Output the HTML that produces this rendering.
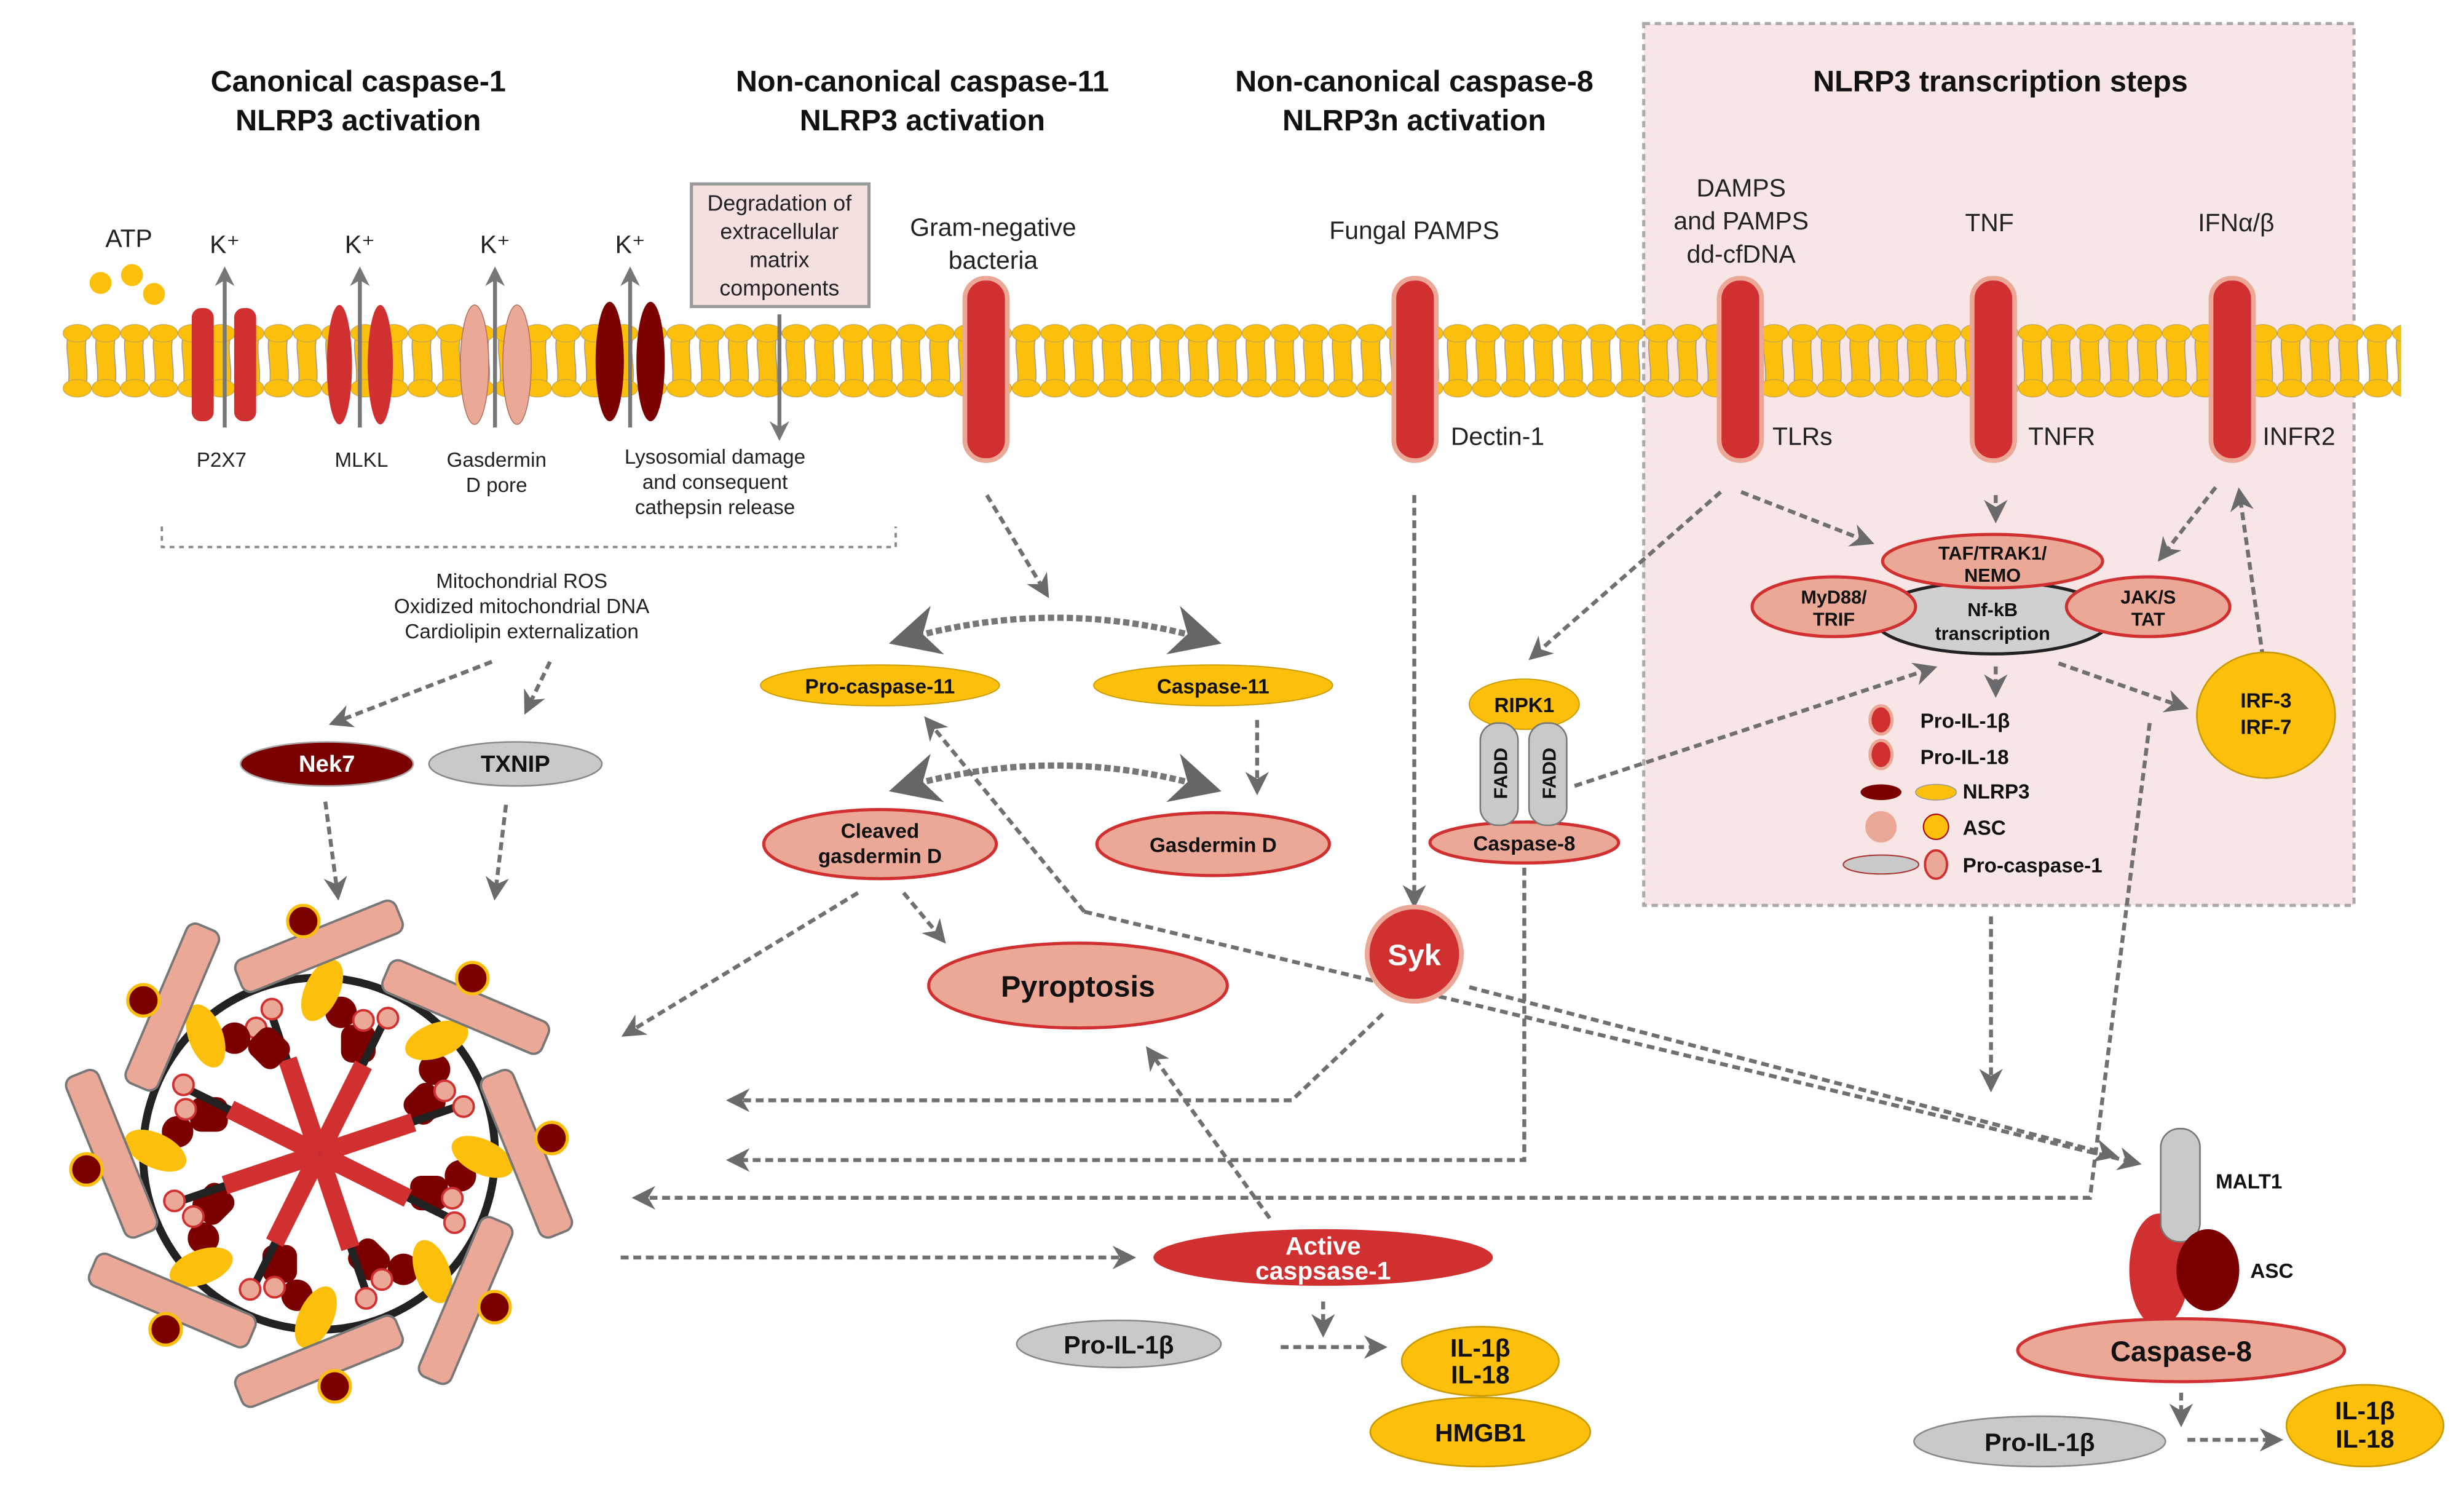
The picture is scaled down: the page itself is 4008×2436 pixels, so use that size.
<!DOCTYPE html>
<html><head><meta charset="utf-8"><style>
html,body{margin:0;padding:0;background:#fff}
svg{display:block}
text{font-family:"Liberation Sans",sans-serif}
.t{font-size:19px;font-weight:bold;text-anchor:middle;fill:#111}
.n{font-size:16px;text-anchor:middle;fill:#222}
.s{font-size:13px;text-anchor:middle;fill:#222}
.b{font-weight:bold;text-anchor:middle;fill:#111}
.d{fill:none;stroke:#707070;stroke-width:2.5;stroke-dasharray:5 3}
</style></head><body>
<svg width="4008" height="2436" viewBox="0 0 1568 953" xmlns="http://www.w3.org/2000/svg">
<defs>
<marker id="a" viewBox="0 0 10 10" refX="8" refY="5" markerWidth="6" markerHeight="6" orient="auto-start-reverse"><path d="M0,0 L10,5 L0,10 L3,5z" fill="#6a6a6a"/></marker>
<marker id="B" viewBox="0 0 10 10" refX="6" refY="5" markerWidth="8" markerHeight="8" orient="auto-start-reverse"><path d="M0,0 L10,5 L0,10 L3,5z" fill="#666"/></marker>
<marker id="g" viewBox="0 0 10 10" refX="8" refY="5" markerWidth="5" markerHeight="5" orient="auto"><path d="M0,0 L10,5 L0,10 L3,5z" fill="#777"/></marker>
<pattern id="mem" x="40" y="0" width="18.3" height="953" patternUnits="userSpaceOnUse">
<path d="M3,215 C1.5,224 5,234 3.5,244 L15,244 C16.5,234 13,224 15,215 Z" fill="#fbbf0c" stroke="#999" stroke-width="0.6"/>
<ellipse cx="9.15" cy="212" rx="9" ry="5.6" fill="#fbbf0c" stroke="#b8a060" stroke-width="0.4"/>
<ellipse cx="9.15" cy="247" rx="9" ry="5.6" fill="#fbbf0c" stroke="#b8a060" stroke-width="0.4"/>
</pattern>
</defs>
<rect x="1046" y="15" width="452" height="561" fill="#f8e5e5" stroke="#aaa" stroke-width="2" stroke-dasharray="4 3"/>
<rect x="40" y="205" width="1488" height="48" fill="url(#mem)"/>

<text class="t" x="228" y="58">Canonical caspase-1</text><text class="t" x="228" y="83">NLRP3 activation</text>
<text class="t" x="587" y="58">Non-canonical caspase-11</text><text class="t" x="587" y="83">NLRP3 activation</text>
<text class="t" x="900" y="58">Non-canonical caspase-8</text><text class="t" x="900" y="83">NLRP3n activation</text>
<text class="t" x="1273" y="58">NLRP3 transcription steps</text>

<text class="n" x="82" y="157">ATP</text>
<circle cx="64" cy="180" r="7" fill="#fbbf0c"/><circle cx="84" cy="175" r="7" fill="#fbbf0c"/><circle cx="98" cy="187" r="7" fill="#fbbf0c"/>
<g class="n"><text x="143" y="161">K⁺</text><text x="229" y="161">K⁺</text><text x="315" y="161">K⁺</text><text x="401" y="161">K⁺</text></g>
<rect x="122" y="196" width="14" height="72" rx="6" fill="#d03030"/><rect x="149" y="196" width="14" height="72" rx="6" fill="#d03030"/>
<ellipse cx="216" cy="232" rx="8" ry="38" fill="#d03030"/><ellipse cx="242" cy="232" rx="8" ry="38" fill="#d03030"/>
<ellipse cx="302" cy="232" rx="9" ry="38" fill="#eba896" stroke="#b07060" stroke-width="0.6"/><ellipse cx="329" cy="232" rx="9" ry="38" fill="#eba896" stroke="#b07060" stroke-width="0.6"/>
<ellipse cx="388" cy="230" rx="9" ry="38" fill="#7b0000"/><ellipse cx="414" cy="230" rx="9" ry="38" fill="#7b0000"/>
<g stroke="#777" stroke-width="2.5" marker-end="url(#g)">
<line x1="143" y1="272" x2="143" y2="172"/><line x1="229" y1="272" x2="229" y2="172"/><line x1="315" y1="272" x2="315" y2="172"/><line x1="401" y1="272" x2="401" y2="172"/>
<line x1="496" y1="200" x2="496" y2="278"/></g>
<g class="s"><text x="141" y="297">P2X7</text><text x="230" y="297">MLKL</text><text x="316" y="297">Gasdermin</text><text x="316" y="313">D pore</text>
<text x="455" y="295">Lysosomial damage</text><text x="455" y="311">and consequent</text><text x="455" y="327">cathepsin release</text></g>
<rect x="440" y="117" width="113" height="78" fill="#f5e0e0" stroke="#999" stroke-width="2"/>
<g class="s" style="font-size:14px"><text x="496" y="134">Degradation of</text><text x="496" y="152">extracellular</text><text x="496" y="170">matrix</text><text x="496" y="188">components</text></g>

<text class="n" x="632" y="150">Gram-negative</text><text class="n" x="632" y="171">bacteria</text>
<text class="n" x="900" y="152">Fungal PAMPS</text>
<text class="n" x="1108" y="125">DAMPS</text><text class="n" x="1108" y="146">and PAMPS</text><text class="n" x="1108" y="167">dd-cfDNA</text>
<text class="n" x="1266" y="147">TNF</text><text class="n" x="1423" y="147">IFNα/β</text>
<g fill="#d03030" stroke="#eba896" stroke-width="3">
<rect x="614" y="177" width="27" height="116" rx="13"/><rect x="887" y="177" width="27" height="116" rx="13"/>
<rect x="1094" y="177" width="27" height="116" rx="13"/><rect x="1255" y="177" width="27" height="116" rx="13"/><rect x="1407" y="177" width="27" height="116" rx="13"/></g>
<g class="n"><text x="953" y="283">Dectin-1</text><text x="1147" y="283">TLRs</text><text x="1312" y="283">TNFR</text><text x="1463" y="283">INFR2</text></g>

<path d="M103,335 V348 H570 V335" fill="none" stroke="#888" stroke-width="1.5" stroke-dasharray="3 3"/>
<g class="s"><text x="332" y="374">Mitochondrial ROS</text><text x="332" y="390">Oxidized mitochondrial DNA</text><text x="332" y="406">Cardiolipin externalization</text></g>
<g class="d" marker-end="url(#a)">
<line x1="313" y1="421" x2="212" y2="460"/><line x1="350" y1="421" x2="335" y2="452"/>
<line x1="207" y1="510" x2="215" y2="570"/><line x1="322" y1="512" x2="315" y2="570"/>
<line x1="628" y1="315" x2="666" y2="378"/>
<line x1="800" y1="458" x2="800" y2="503"/>
<line x1="575" y1="568" x2="600" y2="598"/>
<line x1="546" y1="568" x2="398" y2="658"/>
<line x1="900" y1="315" x2="900" y2="575"/>
<polyline points="880,645 822,700 465,700"/>
<polyline points="970,552 970,738 465,738"/>
<polyline points="1368,460 1330,762 405,762"/>
<line x1="395" y1="800" x2="720" y2="800"/>
<line x1="808" y1="775" x2="731" y2="668"/>
<line x1="842" y1="828" x2="842" y2="848"/>
<line x1="815" y1="857" x2="880" y2="857"/>
<line x1="1095" y1="313" x2="975" y2="418"/>
<line x1="1108" y1="313" x2="1190" y2="345"/>
<line x1="1270" y1="315" x2="1270" y2="330"/>
<line x1="1410" y1="310" x2="1375" y2="355"/>
<line x1="1440" y1="418" x2="1425" y2="313"/>
<line x1="1270" y1="424" x2="1270" y2="441"/>
<line x1="1310" y1="422" x2="1390" y2="450"/>
<line x1="1002" y1="500" x2="1230" y2="425"/>
<line x1="1267" y1="583" x2="1267" y2="692"/>
<polyline points="690,580 1360,740"/>
<line x1="935" y1="628" x2="1345" y2="735"/>
<line x1="1388" y1="886" x2="1388" y2="905"/>
<line x1="1392" y1="916" x2="1450" y2="916"/>
</g>
<polyline class="d" points="690,580 590,458" marker-end="url(#a)"/>
<path d="M578,406 Q672,380 765,406" fill="none" stroke="#777" stroke-width="4" stroke-dasharray="4 2" marker-start="url(#B)" marker-end="url(#B)"/>
<path d="M578,500 Q672,474 765,500" fill="none" stroke="#777" stroke-width="4" stroke-dasharray="4 2" marker-start="url(#B)" marker-end="url(#B)"/>

<ellipse cx="208" cy="486" rx="55" ry="14" fill="#7b0000" stroke="#aaa"/><text class="b" x="208" y="491" style="font-size:15px;fill:#fff">Nek7</text>
<ellipse cx="328" cy="486" rx="55" ry="14" fill="#c9c9c9" stroke="#888"/><text class="b" x="328" y="491" style="font-size:15px">TXNIP</text>

<g fill="#fbbf0c" stroke="#c99a00" stroke-width="0.7">
<ellipse cx="560" cy="436" rx="76" ry="13"/><ellipse cx="772" cy="436" rx="76" ry="13"/></g>
<text class="b" x="560" y="441" style="font-size:13px">Pro-caspase-11</text><text class="b" x="772" y="441" style="font-size:13px">Caspase-11</text>
<g fill="#eba896" stroke="#d03030" stroke-width="2">
<ellipse cx="560" cy="537" rx="74" ry="22"/><ellipse cx="772" cy="537" rx="74" ry="20"/><ellipse cx="686" cy="627" rx="95" ry="27"/>
<ellipse cx="970" cy="536" rx="60" ry="13"/>
<ellipse cx="1268" cy="393" rx="76" ry="23" fill="#d0d0d0" stroke="#222"/>
<ellipse cx="1268" cy="357" rx="70" ry="17"/><ellipse cx="1167" cy="386" rx="52" ry="19"/><ellipse cx="1367" cy="386" rx="52" ry="19"/>
</g>
<text class="b" x="560" y="533" style="font-size:13px">Cleaved</text><text class="b" x="560" y="549" style="font-size:13px">gasdermin D</text>
<text class="b" x="772" y="542" style="font-size:13px">Gasdermin D</text>
<text class="b" x="686" y="634" style="font-size:19px">Pyroptosis</text>
<circle cx="900" cy="607" r="30" fill="#d03030" stroke="#eba896" stroke-width="3"/><text class="b" x="900" y="614" style="font-size:19px;fill:#fff">Syk</text>
<ellipse cx="970" cy="448" rx="35" ry="16" fill="#fbbf0c" stroke="#c99a00" stroke-width="0.7"/><text class="b" x="970" y="453" style="font-size:13px">RIPK1</text>
<rect x="942" y="460" width="24" height="65" rx="11" fill="#c9c9c9" stroke="#777"/><rect x="973" y="460" width="24" height="65" rx="11" fill="#c9c9c9" stroke="#777"/>
<text class="b" transform="translate(959,492) rotate(-90)" style="font-size:12px">FADD</text><text class="b" transform="translate(990,492) rotate(-90)" style="font-size:12px">FADD</text>
<text class="b" x="970" y="541" style="font-size:13px">Caspase-8</text>
<g class="b" style="font-size:12px"><text x="1268" y="356">TAF/TRAK1/</text><text x="1268" y="370">NEMO</text>
<text x="1167" y="384">MyD88/</text><text x="1167" y="398">TRIF</text><text x="1367" y="384">JAK/S</text><text x="1367" y="398">TAT</text>
<text x="1268" y="392">Nf-kB</text><text x="1268" y="407">transcription</text></g>
<ellipse cx="1442" cy="455" rx="44" ry="40" fill="#fbbf0c" stroke="#c99a00"/><text class="b" x="1442" y="450" style="font-size:13px">IRF-3</text><text class="b" x="1442" y="467" style="font-size:13px">IRF-7</text>
<ellipse cx="1197" cy="458" rx="7" ry="9" fill="#d03030" stroke="#eba896" stroke-width="2"/><ellipse cx="1197" cy="480" rx="7" ry="9" fill="#d03030" stroke="#eba896" stroke-width="2"/>
<ellipse cx="1197" cy="504" rx="13" ry="5" fill="#7b0000"/><ellipse cx="1232" cy="504" rx="13" ry="5" fill="#fbbf0c" stroke="#999" stroke-width="0.6"/>
<circle cx="1197" cy="526" r="10" fill="#eba896"/><circle cx="1232" cy="526" r="8" fill="#fbbf0c" stroke="#a00" stroke-width="0.8"/>
<ellipse cx="1197" cy="550" rx="24" ry="6" fill="#c9c9c9" stroke="#a33" stroke-width="0.8"/><ellipse cx="1232" cy="550" rx="7" ry="9" fill="#eba896" stroke="#d03030" stroke-width="1.5"/>
<g class="b" style="font-size:13px;text-anchor:start"><text x="1222" y="463">Pro-IL-1β</text><text x="1222" y="486">Pro-IL-18</text><text x="1249" y="508">NLRP3</text><text x="1249" y="531">ASC</text><text x="1249" y="555">Pro-caspase-1</text></g>

<ellipse cx="842" cy="800" rx="108" ry="18" fill="#d03030"/><text class="b" x="842" y="798" style="font-size:16px;fill:#fff">Active</text><text class="b" x="842" y="814" style="font-size:16px;fill:#fff">caspsase-1</text>
<ellipse cx="712" cy="855" rx="65" ry="15" fill="#c9c9c9" stroke="#888"/><text class="b" x="712" y="861" style="font-size:16px">Pro-IL-1β</text>
<ellipse cx="942" cy="911" rx="70" ry="22" fill="#fbbf0c" stroke="#c99a00"/><text class="b" x="942" y="917" style="font-size:16px">HMGB1</text>
<ellipse cx="942" cy="866" rx="50" ry="22" fill="#fbbf0c" stroke="#c99a00"/><text class="b" x="942" y="863" style="font-size:16px">IL-1β</text><text class="b" x="942" y="880" style="font-size:16px">IL-18</text>

<ellipse cx="1374" cy="808" rx="19" ry="36" fill="#d03030"/><rect x="1375" y="718" width="25" height="72" rx="12" fill="#c9c9c9" stroke="#777"/>
<ellipse cx="1405" cy="808" rx="20" ry="26" fill="#7b0000"/>
<text class="b" x="1410" y="756" style="font-size:13px;text-anchor:start">MALT1</text><text class="b" x="1432" y="813" style="font-size:13px;text-anchor:start">ASC</text>
<ellipse cx="1388" cy="859" rx="104" ry="20" fill="#eba896" stroke="#d03030" stroke-width="2"/><text class="b" x="1388" y="866" style="font-size:18px">Caspase-8</text>
<ellipse cx="1298" cy="917" rx="80" ry="16" fill="#c9c9c9" stroke="#888"/><text class="b" x="1298" y="923" style="font-size:16px">Pro-IL-1β</text>
<ellipse cx="1505" cy="907" rx="50" ry="26" fill="#fbbf0c" stroke="#c99a00"/><text class="b" x="1505" y="903" style="font-size:16px">IL-1β</text><text class="b" x="1505" y="921" style="font-size:16px">IL-18</text>

<g transform="translate(203,734)">
<circle r="112" fill="none" stroke="#222" stroke-width="5"/>
<g id="sec">
<line x1="0" y1="0" x2="-30" y2="-88" stroke="#222" stroke-width="5"/>
<line x1="0" y1="0" x2="-20" y2="-60" stroke="#d03030" stroke-width="12"/>
<rect x="14" y="-82" width="22" height="24" rx="7" fill="#7b0000"/><circle cx="14" cy="-90" r="10" fill="#7b0000"/>
<circle cx="-30" cy="-92" r="6.5" fill="#eba896" stroke="#d03030" stroke-width="1.5"/><circle cx="-40" cy="-80" r="6.5" fill="#eba896" stroke="#d03030" stroke-width="1.5"/>
<ellipse cx="2" cy="-104" rx="11" ry="21" transform="rotate(25 2 -104)" fill="#fbbf0c"/>
<rect x="-55" y="-11" width="110" height="22" rx="6" transform="translate(0,-132) rotate(-22)" fill="#eba896" stroke="#777" stroke-width="1.5"/>
<circle cx="-10" cy="-148" r="10" fill="#7b0000" stroke="#fbbf0c" stroke-width="2"/>
</g>
<use href="#sec" transform="rotate(45)"/><use href="#sec" transform="rotate(90)"/><use href="#sec" transform="rotate(135)"/>
<use href="#sec" transform="rotate(180)"/><use href="#sec" transform="rotate(225)"/><use href="#sec" transform="rotate(270)"/><use href="#sec" transform="rotate(315)"/>
</g>
</svg>
</body></html>
